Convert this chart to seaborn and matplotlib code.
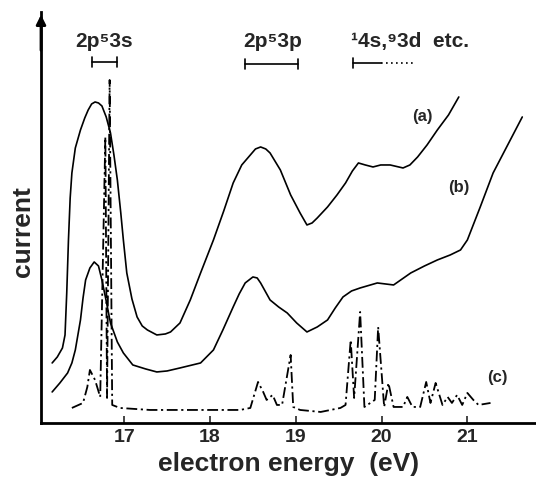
import numpy as np
import pandas as pd
import seaborn as sns
import matplotlib.pyplot as plt

# curve (a)
a_e = [16.16, 16.22, 16.28, 16.31, 16.33, 16.35, 16.37, 16.39, 16.43, 16.49, 16.54, 16.58,
       16.62, 16.66, 16.70, 16.74, 16.79, 16.84, 16.88, 16.92, 16.96, 16.99, 17.03, 17.09,
       17.15, 17.21, 17.27, 17.38, 17.48, 17.54, 17.65, 17.77, 17.89, 18.04, 18.16, 18.27,
       18.37, 18.47, 18.53, 18.59, 18.65, 18.70, 18.82, 18.94, 19.05, 19.13, 19.19, 19.25,
       19.37, 19.48, 19.58, 19.66, 19.73, 19.81, 19.90, 19.99, 20.10, 20.25, 20.33, 20.42,
       20.53, 20.65, 20.78, 20.90]
a_i = [60, 66, 75, 88, 130, 183, 225, 250, 275, 293, 305, 313,
       319, 321, 320, 317, 306, 290, 268, 243, 210, 183, 150, 124,
       106, 97, 93, 88, 89, 91, 100, 123, 150, 183, 212, 240,
       258, 268, 274, 276, 274, 270, 253, 228, 210, 198, 200, 205,
       216, 228, 240, 252, 260, 258, 256, 258, 258, 255, 258, 266,
       278, 293, 308, 326]

# curve (b)
b_e = [16.16, 16.25, 16.34, 16.39, 16.43, 16.49, 16.52, 16.55, 16.60, 16.65, 16.70, 16.74,
       16.79, 16.84, 16.92, 16.99, 17.10, 17.25, 17.38, 17.50, 17.65, 17.89, 18.04, 18.15,
       18.27, 18.34, 18.41, 18.50, 18.55, 18.59, 18.70, 18.80, 18.90, 19.01, 19.13, 19.25,
       19.37, 19.46, 19.55, 19.65, 19.75, 19.95, 20.14, 20.34, 20.50, 20.65, 20.80, 20.92,
       21.00, 21.15, 21.30, 21.47, 21.64]
b_i = [31, 40, 50, 60, 73, 103, 125, 143, 155, 161, 157, 143,
       122, 100, 81, 70, 58, 54, 51, 52, 55, 60, 73, 93,
       116, 129, 140, 146, 145, 140, 123, 116, 110, 100, 91, 96,
       103, 115, 126, 132, 135, 140, 138, 150, 157, 163, 168, 173,
       183, 216, 250, 278, 306]

# curve (c)
c_e = [16.39, 16.52, 16.57, 16.60, 16.66, 16.72, 16.78, 16.80, 16.83, 16.86, 16.95, 17.30,
       17.89, 18.35, 18.47, 18.56, 18.62, 18.66, 18.73, 18.78, 18.84, 18.94, 18.97, 19.05,
       19.29, 19.52, 19.58, 19.64, 19.68, 19.75, 19.80, 19.92, 19.96, 20.03, 20.08, 20.14,
       20.25, 20.30, 20.36, 20.45, 20.52, 20.57, 20.63, 20.71, 20.77, 20.82, 20.88, 20.94,
       21.00, 21.07, 21.13, 21.27]
c_i = [15, 20, 36, 53, 43, 26, 286, 25, 343, 18, 15, 13,
       13, 13, 15, 41, 31, 23, 28, 18, 18, 68, 16, 13,
       11, 15, 18, 83, 25, 111, 16, 23, 96, 16, 40, 16,
       16, 26, 16, 16, 41, 20, 40, 18, 26, 20, 28, 18,
       30, 23, 18, 20]

xticks = [17, 18, 19, 20, 21]

sns.set_style("white")
plt.rcParams['font.family'] = ['Liberation Sans', 'DejaVu Sans']
plt.rcParams['font.weight'] = 'bold'

fig = plt.figure(figsize=(5.36, 4.79), dpi=100)
ax = fig.add_axes([0.0765, 0.117, 0.9235, 0.858])

sns.lineplot(x=a_e, y=a_i, sort=False, estimator=None, color='black', lw=1.2, ax=ax)
sns.lineplot(x=b_e, y=b_i, sort=False, estimator=None, color='black', lw=1.2, ax=ax)
sns.lineplot(x=c_e, y=c_i, sort=False, estimator=None, color='black', lw=1.3,
             linestyle=(0, (6, 2, 1.2, 2)), ax=ax)

ax.set_xlim(16.03, 21.80)
ax.set_ylim(0, 411)
ax.set_xticks(xticks)
ax.set_xticklabels([str(t) for t in xticks], fontsize=14, fontweight='bold')
ax.set_yticks([])
ax.tick_params(axis='x', direction='in', length=5, width=1.2, pad=4, bottom=True)
for s in ['top', 'right']:
    ax.spines[s].set_visible(False)
for s in ['left', 'bottom']:
    ax.spines[s].set_linewidth(2)
    ax.spines[s].set_color('black')
ax.annotate('', xy=(0, 1.0), xytext=(0, 0.9), xycoords='axes fraction',
            arrowprops=dict(arrowstyle='-|>', color='black', lw=2, mutation_scale=14))

ax.set_xlabel('electron energy  (eV)', fontsize=19, fontweight='bold', labelpad=5)
ax.set_ylabel('current', fontsize=19, fontweight='bold')
ax.yaxis.set_label_coords(-0.012, 0.465)

# curve labels
ax.text(20.48, 306, '(a)', fontsize=12, fontweight='bold', ha='center', va='center')
ax.text(20.90, 235, '(b)', fontsize=12, fontweight='bold', ha='center', va='center')
ax.text(21.35, 45, '(c)', fontsize=12, fontweight='bold', ha='center', va='center')

# level annotations
ax.text(16.77, 381, '2p\u20753s', fontsize=15, fontweight='bold', ha='center', va='center')
ax.text(18.73, 381, '2p\u20753p', fontsize=15, fontweight='bold', ha='center', va='center')
ax.text(19.64, 381, '\u00b94s,\u20793d  etc.', fontsize=15, fontweight='bold', ha='left', va='center')


def bracket(x0, x1, y, left=True, right=True, dotted_to=None):
    ax.plot([x0, x1], [y, y], color='black', lw=1.2)
    if left:
        ax.plot([x0, x0], [y - 5, y + 5], color='black', lw=1.2)
    if right:
        ax.plot([x1, x1], [y - 5, y + 5], color='black', lw=1.2)
    if dotted_to is not None:
        ax.plot([x1, dotted_to], [y, y], color='black', lw=1.2, linestyle=(0, (1, 2)))


bracket(16.63, 16.92, 361)
bracket(18.41, 19.02, 359)
bracket(19.67, 19.99, 360, right=False, dotted_to=20.39)

fig.savefig('out.png', dpi=100)
